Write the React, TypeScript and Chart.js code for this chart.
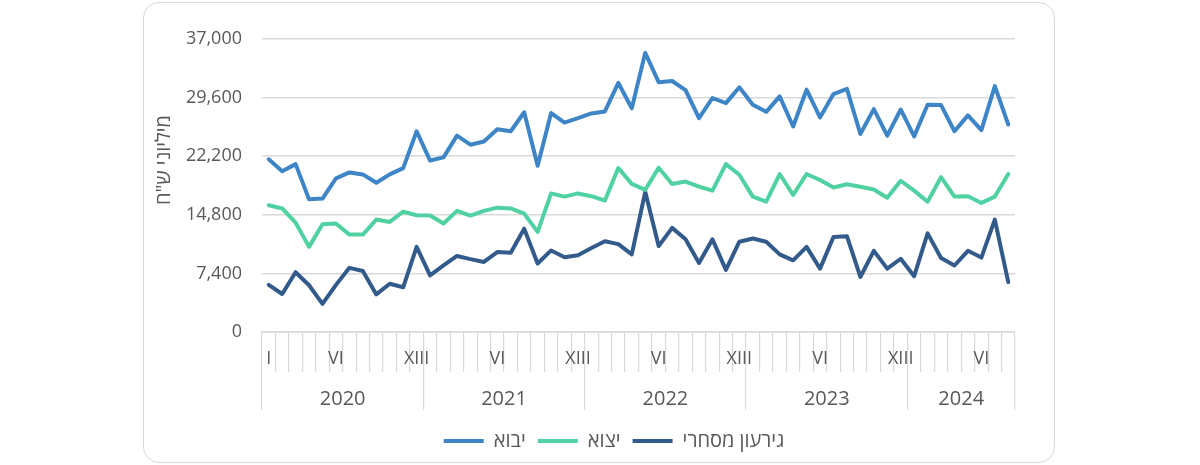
import React, { useEffect, useRef } from 'react';
import { Chart, registerables } from 'chart.js';

Chart.register(...registerables);

// ---- data ----
const years = ['2020', '2021', '2022', '2023', '2024'];

const monthTickLabels = [
  'I', '', '', '', '', 'VI', '', '', '', '', '', 'XIII',
  '', '', '', '', '', 'VI', '', '', '', '', '', 'XIII',
  '', '', '', '', '', 'VI', '', '', '', '', '', 'XIII',
  '', '', '', '', '', 'VI', '', '', '', '', '', 'XIII',
  '', '', '', '', '', 'VI', '', '',
];

const seriesNames = ['יבוא', 'יצוא', 'גירעון מסחרי'];

const importsData = [
  21800, 20300, 21200, 16750, 16850, 19400, 20150, 19900, 18850, 19900, 20700, 25350,
  21650, 22050, 24800, 23650, 24050, 25600, 25350, 27750, 21000, 27650, 26450, 27000,
  27600, 27850, 31450, 28250, 35250, 31550, 31700, 30550, 27000, 29550, 28900, 30900,
  28700, 27800, 29750, 25950, 30600, 27100, 30050, 30700, 25000, 28150, 24800, 28100,
  24700, 28700, 28650, 25350, 27350, 25500, 31050, 26200,
];

const exportsData = [
  16000, 15600, 13800, 10750, 13600, 13700, 12300, 12300, 14200, 13900, 15200, 14750,
  14700, 13700, 15300, 14700, 15300, 15700, 15600, 14950, 12650, 17500, 17100, 17500,
  17150, 16600, 20700, 18700, 17950, 20750, 18700, 19000, 18350, 17850, 21200, 19850,
  17100, 16450, 19950, 17300, 19950, 19200, 18250, 18650, 18350, 18000, 16950, 19100,
  17850, 16450, 19550, 17100, 17150, 16300, 17100, 19950,
];

const deficitData = [
  5950, 4800, 7550, 5900, 3550, 5950, 8100, 7700, 4750, 6100, 5650, 10750,
  7150, 8400, 9600, 9200, 8850, 10100, 10000, 13050, 8650, 10300, 9450, 9700,
  10600, 11450, 11100, 9800, 17700, 10850, 13150, 11700, 8700, 11700, 7850, 11400,
  11800, 11400, 9800, 9050, 10750, 8000, 12000, 12100, 6950, 10250, 8000, 9250,
  7050, 12450, 9350, 8400, 10250, 9400, 14200, 6300,
];

const yTitle = 'מיליוני ש"ח';
const yMin = 0;
const yMax = 37000;
const yStep = 7400;

// ---- styling ----
const COLORS = ['#3D85C6', '#4FD1A1', '#325B8C'];
const TEXT = '#595959';
const GRID = '#d9d9d9';
const FONT = "'Open Sans', 'Noto Sans', sans-serif";

const nMonths = importsData.length;
const yearStarts = years.map((_, i) => i * 12 - 0.5);
const yearEnds = years.map((_, i) => Math.min((i + 1) * 12, nMonths) - 0.5);
const boundaryValues = Array.from(new Set([...yearStarts, ...yearEnds]));
const yearCenters = years.map((_, i) => (yearStarts[i] + yearEnds[i]) / 2);

const isBoundary = (v: number) => boundaryValues.some((b) => Math.abs(b - v) < 1e-6);

const yTitlePlugin = {
  id: 'yTitleCustom',
  afterDraw(chart: any) {
    const { ctx, chartArea } = chart;
    ctx.save();
    ctx.translate(164, chartArea.top + 121);
    ctx.rotate(-Math.PI / 2);
    ctx.textAlign = 'center';
    ctx.textBaseline = 'middle';
    ctx.font = `20px ${FONT}`;
    ctx.fillStyle = TEXT;
    ctx.fillText(yTitle, 0, 0);
    ctx.restore();
  },
};

export default function App() {
  const ref = useRef<HTMLCanvasElement>(null);

  useEffect(() => {
    Chart.defaults.font.family = FONT;
    const datasets = [importsData, exportsData, deficitData].map((d, i) => ({
      label: seriesNames[i],
      data: d,
      borderColor: COLORS[i],
      backgroundColor: COLORS[i],
      borderWidth: 4,
      pointRadius: 0,
      pointHoverRadius: 0,
      tension: 0,
      borderJoinStyle: 'round' as const,
      borderCapStyle: 'round' as const,
    }));

    const chart = new Chart(ref.current!, {
      type: 'line',
      data: { labels: monthTickLabels, datasets },
      options: {
        animation: false,
        responsive: true,
        maintainAspectRatio: false,
        layout: { padding: { left: 28, right: 0, top: 39, bottom: 4 } },
        plugins: {
          tooltip: { enabled: false },
          legend: {
            position: 'bottom',
            labels: {
              usePointStyle: true,
              pointStyle: 'line',
              pointStyleWidth: 40,
              padding: 12,
              color: TEXT,
              font: { size: 20, family: FONT },
            },
          },
        },
        scales: {
          y: {
            min: yMin,
            max: yMax,
            afterFit: (s: any) => {
              s.width = 234;
            },
            ticks: {
              stepSize: yStep,
              padding: 20,
              color: TEXT,
              font: { size: 18, family: FONT },
              callback: (v: any) => Number(v).toLocaleString('en-US'),
            },
            grid: { color: GRID, lineWidth: 1.5, drawTicks: false },
            border: { display: false },
          },
          yRight: {
            type: 'linear',
            position: 'right',
            min: yMin,
            max: yMax,
            afterFit: (s: any) => {
              s.width = 185;
            },
            ticks: { display: false },
            grid: { display: false, drawTicks: false },
            border: { display: false },
          },
          x: {
            type: 'category',
            position: 'bottom',
            weight: 0,
            offset: true,
            afterFit: (s: any) => {
              s.height = 40;
            },
            grid: {
              offset: true,
              drawOnChartArea: false,
              tickLength: 40,
              color: GRID,
              lineWidth: 1.2,
            },
            border: { display: true, color: GRID, width: 1.5 },
            ticks: {
              autoSkip: false,
              maxRotation: 0,
              minRotation: 0,
              padding: -24,
              color: TEXT,
              font: { size: 18, family: FONT },
            },
          },
          x2: {
            type: 'linear',
            position: 'bottom',
            weight: 1,
            min: -0.5,
            max: nMonths - 0.5,
            afterBuildTicks: (s: any) => {
              const vals = [...boundaryValues, ...yearCenters].sort((a, b) => a - b);
              s.ticks = vals.map((v) => ({ value: v }));
            },
            afterFit: (s: any) => {
              s.height = 47;
            },
            grid: {
              drawOnChartArea: false,
              tickLength: 38,
              lineWidth: 1.2,
              color: (ctx: any) =>
                ctx.tick && isBoundary(ctx.tick.value) ? GRID : 'rgba(0,0,0,0)',
            },
            border: { display: false },
            ticks: {
              autoSkip: false,
              maxRotation: 0,
              minRotation: 0,
              padding: -23,
              color: TEXT,
              font: { size: 20, family: FONT },
              callback: (v: any) => {
                const idx = yearCenters.findIndex((c) => Math.abs(c - Number(v)) < 1e-6);
                return idx >= 0 ? years[idx] : '';
              },
            },
          },
        },
      },
      plugins: [yTitlePlugin],
    } as any);

    return () => chart.destroy();
  }, []);

  return (
    <div
      style={{
        position: 'absolute',
        left: 0,
        top: 0,
        width: 1200,
        height: 465,
        background: '#ffffff',
      }}
    >
      <div
        style={{
          position: 'absolute',
          left: 143,
          top: 2,
          width: 912,
          height: 461,
          boxSizing: 'border-box',
          border: '1.5px solid #d9d9d9',
          borderRadius: 16,
        }}
      />
      <div style={{ position: 'absolute', left: 0, top: 0, width: 1200, height: 465 }}>
        <canvas ref={ref} />
      </div>
    </div>
  );
}
